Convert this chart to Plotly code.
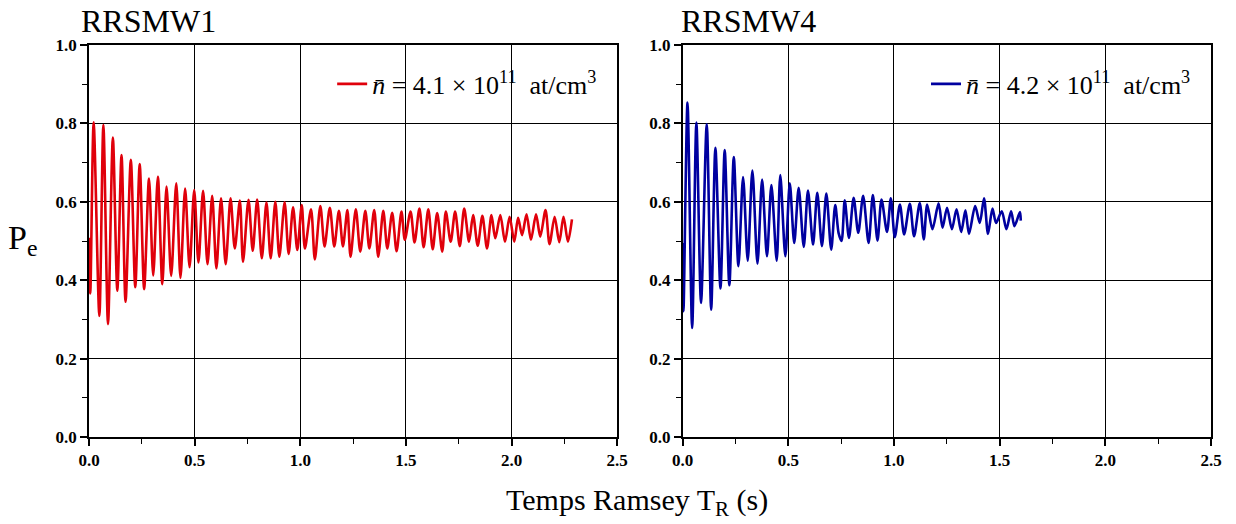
import plotly.graph_objects as go

# ---- data (extrema of the Ramsey fringes) ----
t1 = [0.000, 0.006, 0.022, 0.049, 0.068, 0.090, 0.113, 0.134, 0.154, 0.173,
      0.198, 0.219, 0.240, 0.261, 0.284, 0.304, 0.326, 0.347, 0.367, 0.389,
      0.413, 0.433, 0.455, 0.476, 0.498, 0.518, 0.540, 0.561, 0.583, 0.603,
      0.625, 0.647, 0.670, 0.690, 0.714, 0.729, 0.755, 0.775, 0.796, 0.818,
      0.840, 0.860, 0.882, 0.901, 0.926, 0.945, 0.966, 0.986, 1.007, 1.022,
      1.051, 1.069, 1.095, 1.115, 1.140, 1.161, 1.183, 1.202, 1.223, 1.238,
      1.263, 1.284, 1.308, 1.327, 1.350, 1.369, 1.393, 1.412, 1.435, 1.456,
      1.479, 1.495, 1.522, 1.541, 1.564, 1.584, 1.606, 1.627, 1.648, 1.672,
      1.689, 1.712, 1.733, 1.755, 1.776, 1.799, 1.818, 1.840, 1.862, 1.884,
      1.905, 1.923, 1.947, 1.969, 1.991, 2.013, 2.031, 2.050, 2.071, 2.092,
      2.116, 2.136, 2.161, 2.180, 2.204, 2.226, 2.246, 2.267, 2.286]
p1 = [0.508, 0.366, 0.803, 0.309, 0.796, 0.288, 0.764, 0.373, 0.719, 0.345,
      0.707, 0.382, 0.696, 0.377, 0.659, 0.412, 0.664, 0.390, 0.639, 0.411,
      0.647, 0.406, 0.634, 0.433, 0.630, 0.445, 0.628, 0.441, 0.615, 0.430,
      0.609, 0.441, 0.609, 0.481, 0.603, 0.447, 0.605, 0.475, 0.606, 0.456,
      0.598, 0.456, 0.600, 0.460, 0.599, 0.467, 0.586, 0.477, 0.592, 0.481,
      0.581, 0.453, 0.589, 0.486, 0.585, 0.486, 0.577, 0.486, 0.579, 0.460,
      0.581, 0.473, 0.577, 0.481, 0.579, 0.460, 0.577, 0.481, 0.572, 0.474,
      0.575, 0.503, 0.575, 0.496, 0.583, 0.484, 0.581, 0.479, 0.571, 0.473,
      0.575, 0.498, 0.575, 0.487, 0.583, 0.498, 0.566, 0.488, 0.564, 0.481,
      0.566, 0.507, 0.566, 0.498, 0.562, 0.498, 0.559, 0.515, 0.568, 0.503,
      0.568, 0.511, 0.579, 0.492, 0.562, 0.497, 0.562, 0.498, 0.555]

t2 = [0.001, 0.004, 0.023, 0.045, 0.065, 0.087, 0.114, 0.135, 0.155, 0.179,
      0.199, 0.221, 0.242, 0.264, 0.286, 0.308, 0.330, 0.354, 0.376, 0.399,
      0.420, 0.445, 0.462, 0.486, 0.507, 0.528, 0.549, 0.573, 0.593, 0.617,
      0.637, 0.659, 0.680, 0.703, 0.722, 0.738, 0.752, 0.767, 0.787, 0.809,
      0.831, 0.854, 0.880, 0.900, 0.922, 0.941, 0.967, 0.985, 1.004, 1.028,
      1.048, 1.075, 1.095, 1.122, 1.141, 1.157, 1.182, 1.211, 1.230, 1.251,
      1.274, 1.296, 1.318, 1.338, 1.355, 1.384, 1.406, 1.426, 1.445, 1.466,
      1.483, 1.510, 1.532, 1.554, 1.570, 1.596, 1.600]
p2 = [0.495, 0.321, 0.853, 0.278, 0.802, 0.342, 0.798, 0.325, 0.738, 0.379,
      0.732, 0.387, 0.714, 0.436, 0.663, 0.450, 0.680, 0.442, 0.657, 0.461,
      0.643, 0.450, 0.668, 0.461, 0.647, 0.495, 0.636, 0.485, 0.629, 0.491,
      0.623, 0.487, 0.621, 0.478, 0.592, 0.520, 0.500, 0.604, 0.508, 0.610,
      0.521, 0.615, 0.495, 0.617, 0.501, 0.606, 0.523, 0.609, 0.510, 0.593,
      0.517, 0.595, 0.512, 0.597, 0.504, 0.593, 0.530, 0.596, 0.534, 0.585,
      0.530, 0.581, 0.523, 0.578, 0.518, 0.589, 0.546, 0.609, 0.518, 0.583,
      0.546, 0.576, 0.530, 0.576, 0.538, 0.574, 0.552]

panel_titles = ["RRSMW1", "RRSMW4"]
legend_labels = ["<i>n̄</i> = 4.1 × 10<sup>11</sup>  at/cm<sup>3</sup>",
                 "<i>n̄</i> = 4.2 × 10<sup>11</sup>  at/cm<sup>3</sup>"]
x_title = "Temps Ramsey T<sub>R</sub> (s)"
y_title = "P<sub>e</sub>"

SERIF = "Liberation Serif, Times New Roman, serif"

fig = go.Figure()
fig.add_trace(go.Scatter(x=t1, y=p1, mode="lines", name=legend_labels[0],
                         line=dict(color="#e0000b", width=2.6, shape="spline", smoothing=0.8),
                         xaxis="x", yaxis="y", legend="legend"))
fig.add_trace(go.Scatter(x=t2, y=p2, mode="lines", name=legend_labels[1],
                         line=dict(color="#0000a0", width=2.6, shape="spline", smoothing=0.8),
                         xaxis="x2", yaxis="y2", legend="legend2"))

def ax(**kw):
    d = dict(showline=True, linecolor="black", linewidth=1.5, mirror=True,
             ticks="outside", ticklen=7, tickwidth=1.5, tickcolor="black",
             showgrid=True, gridcolor="black", gridwidth=1.2, zeroline=False,
             tickfont=dict(family=SERIF, size=17, color="black", weight="bold"),
             tickformat=".1f")
    d.update(kw)
    return d

W = 1236; H = 524
L = 88.7; T = 45
plot_r = 1211; plot_b = 437
R = W - plot_r; B = H - plot_b
pw = plot_r - L
ph = plot_b - T

def px(x):
    return (x - L) / pw

def py(y):
    return (plot_b - y) / ph

dom1 = [0, px(617)]
dom2 = [px(682.5), 1]

fig.update_layout(
    width=W, height=H,
    margin=dict(l=L, r=R, t=T, b=B, pad=0),
    paper_bgcolor="white", plot_bgcolor="white",
    xaxis=ax(domain=dom1, range=[0, 2.5], dtick=0.5,
             minor=dict(ticks="outside", ticklen=5, tickwidth=1.2, dtick=0.25, showgrid=False)),
    yaxis=ax(range=[0, 1], dtick=0.2,
             minor=dict(ticks="outside", ticklen=5, tickwidth=1.2, dtick=0.1, showgrid=False)),
    xaxis2=ax(domain=dom2, range=[0, 2.5], dtick=0.5, anchor="y2",
              minor=dict(ticks="outside", ticklen=5, tickwidth=1.2, dtick=0.25, showgrid=False)),
    yaxis2=ax(range=[0, 1], dtick=0.2, anchor="x2",
              minor=dict(ticks="outside", ticklen=5, tickwidth=1.2, dtick=0.1, showgrid=False)),
    legend=dict(x=px(602), xanchor="right", y=py(84), yanchor="middle",
                bgcolor="rgba(0,0,0,0)", font=dict(family=SERIF, size=26, color="black")),
    legend2=dict(x=px(1196), xanchor="right", y=py(84), yanchor="middle",
                 bgcolor="rgba(0,0,0,0)", font=dict(family=SERIF, size=26, color="black")),
    showlegend=True,
)

fig.add_annotation(text=panel_titles[0], xref="paper", yref="paper",
                   x=px(79), xanchor="left", y=py(21), yanchor="middle",
                   showarrow=False, font=dict(family=SERIF, size=32, color="black"))
fig.add_annotation(text=panel_titles[1], xref="paper", yref="paper",
                   x=px(679), xanchor="left", y=py(21), yanchor="middle",
                   showarrow=False, font=dict(family=SERIF, size=32, color="black"))
fig.add_annotation(text=y_title, xref="paper", yref="paper",
                   x=px(22), xanchor="center", y=py(240), yanchor="middle",
                   showarrow=False, font=dict(family=SERIF, size=34, color="black"))
fig.add_annotation(text=x_title, xref="paper", yref="paper",
                   x=px(637), xanchor="center", y=py(502), yanchor="middle",
                   showarrow=False, font=dict(family=SERIF, size=30, color="black"))

fig.write_html("out.html", config={"displayModeBar": False},
               post_script="document.body.style.margin='0';")
